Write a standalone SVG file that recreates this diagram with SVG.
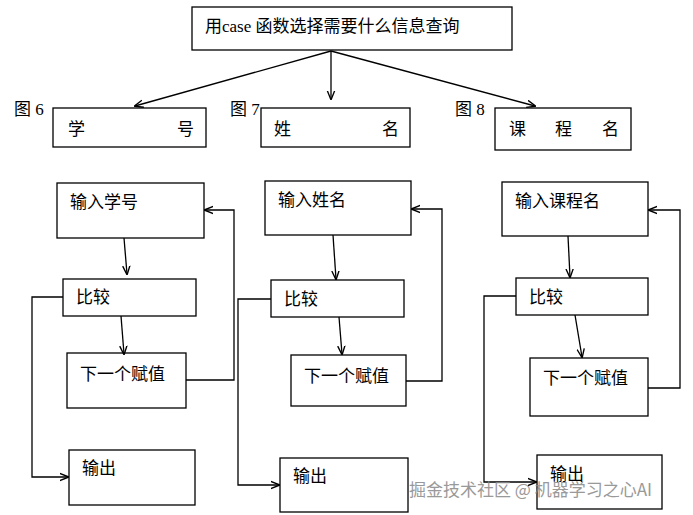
<svg xmlns="http://www.w3.org/2000/svg" width="693" height="515" viewBox="0 0 693 515">
<style>
.b{fill:#fff;stroke:#000;stroke-width:1.3}
.t{font-family:"Liberation Serif","Noto Sans CJK SC",serif;font-size:17px;fill:#000}
.c{fill:none;stroke:#000;stroke-width:1.3;marker-end:url(#a)}
.w{font-family:"Noto Sans CJK SC",sans-serif;font-size:17px;fill:#888;opacity:0.85}
</style>
<defs><marker id="a" viewBox="0 0 10 10" refX="9" refY="5" markerWidth="7" markerHeight="7" orient="auto"><path d="M0,1 L10,5 L0,9" fill="none" stroke="#000" stroke-width="1.5"/></marker></defs>
<rect width="693" height="515" fill="#fff"/>
<g id="top"><rect class="b" x="192" y="7" width="320" height="43"/><text class="t" x="205" y="32">用case 函数选择需要什么信息查询</text></g>
<g id="n6"><text class="t" x="14" y="115">图 6</text><rect class="b" x="53" y="108" width="153" height="39"/><text class="t" x="68" y="135">学</text><text class="t" x="177" y="135">号</text></g>
<g id="n7"><text class="t" x="230" y="115">图 7</text><rect class="b" x="261" y="108" width="149" height="39"/><text class="t" x="274" y="135">姓</text><text class="t" x="382" y="135">名</text></g>
<g id="n8"><text class="t" x="455" y="115">图 8</text><rect class="b" x="495" y="108" width="136" height="42"/><text class="t" x="509" y="135">课</text><text class="t" x="555" y="135">程</text><text class="t" x="602" y="135">名</text></g>
<g id="c1a"><rect class="b" x="57" y="183" width="147" height="55"/><text class="t" x="70" y="208">输入学号</text></g>
<g id="c1b"><rect class="b" x="63" y="279" width="133" height="37"/><text class="t" x="76" y="303">比较</text></g>
<g id="c1c"><rect class="b" x="67" y="353" width="119" height="55"/><text class="t" x="80" y="380">下一个赋值</text></g>
<g id="c1d"><rect class="b" x="69" y="450" width="126" height="55"/><text class="t" x="82" y="474">输出</text></g>
<g id="c2a"><rect class="b" x="265" y="181" width="146" height="54"/><text class="t" x="278" y="206">输入姓名</text></g>
<g id="c2b"><rect class="b" x="271" y="280" width="133" height="37"/><text class="t" x="284" y="305">比较</text></g>
<g id="c2c"><rect class="b" x="291" y="355" width="115" height="51"/><text class="t" x="304" y="382">下一个赋值</text></g>
<g id="c2d"><rect class="b" x="280" y="458" width="128" height="54"/><text class="t" x="293" y="482">输出</text></g>
<g id="c3a"><rect class="b" x="502" y="182" width="146" height="54"/><text class="t" x="515" y="207">输入课程名</text></g>
<g id="c3b"><rect class="b" x="516" y="278" width="132" height="37"/><text class="t" x="529" y="303">比较</text></g>
<g id="c3c"><rect class="b" x="530" y="358" width="118" height="58"/><text class="t" x="543" y="384">下一个赋值</text></g>
<g id="c3d"><rect class="b" x="537" y="455" width="125" height="54"/><text class="t" x="550" y="480">输出</text></g>
<g id="connectors">
<path class="c" d="M331,51 L135,106"/><path class="c" d="M331,51 L331,99"/><path class="c" d="M331,51 L535,106"/>
<path class="c" d="M124,238 L127,274"/><path class="c" d="M121,316 L124,354"/>
<path class="c" d="M186,380 L234,380 L234,210 L205,210"/><path class="c" d="M63,297 L32,297 L32,477 L68,477"/>
<path class="c" d="M333,235 L336,279"/><path class="c" d="M339,317 L342,354"/>
<path class="c" d="M406,381 L442,381 L442,209 L412,209"/><path class="c" d="M271,299 L238,299 L238,485 L279,485"/>
<path class="c" d="M568,236 L570,277"/><path class="c" d="M575,315 L582,357"/>
<path class="c" d="M648,388 L680,388 L680,210 L649,210"/><path class="c" d="M516,296 L484,296 L484,482 L536,482"/>
</g>
<text class="w" x="409" y="496">掘金技术社区 @ 机器学习之心AI</text>
</svg>
